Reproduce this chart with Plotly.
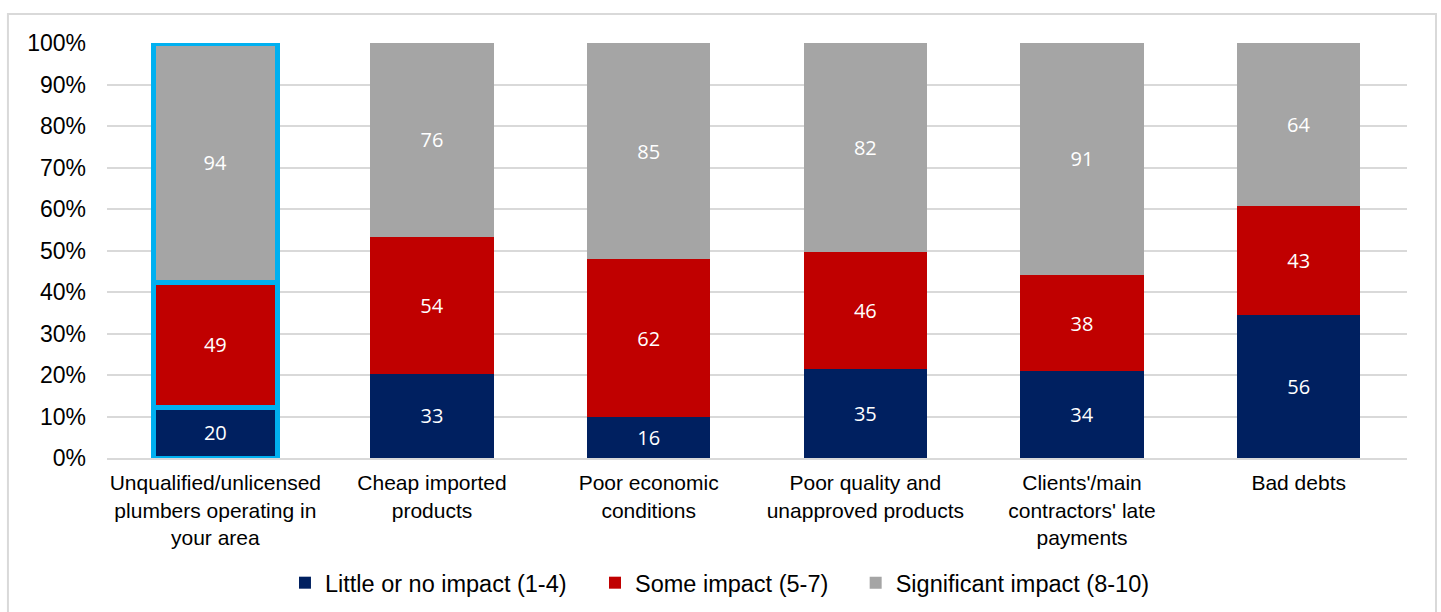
import plotly.graph_objects as go

categories = [
    "Unqualified/unlicensed<br>plumbers operating in<br>your area",
    "Cheap imported<br>products",
    "Poor economic<br>conditions",
    "Poor quality and<br>unapproved products",
    "Clients'/main<br>contractors' late<br>payments",
    "Bad debts",
]
little_impact = [20, 33, 16, 35, 34, 56]
some_impact = [49, 54, 62, 46, 38, 43]
significant_impact = [94, 76, 85, 82, 91, 64]

series_names = ["Little or no impact (1-4)", "Some impact (5-7)", "Significant impact (8-10)"]
series_values = [little_impact, some_impact, significant_impact]
series_colors = ["#002060", "#C00000", "#A5A5A5"]

# each series gets its own legend box so the entries can be spaced freely
legend_ids = ["legend", "legend2", "legend3"]
legend_x = [0.1369, 0.3754, 0.5759]

highlight = "#00B0F0"
label_font = dict(family="Open Sans", size=20, color="white")
bar_width = 0.57

fig = go.Figure()
for name, vals, color, lg in zip(series_names, series_values, series_colors, legend_ids):
    # the first category is drawn separately with a bright blue outline
    fig.add_trace(go.Bar(
        name=name,
        x=categories[:1],
        y=vals[:1],
        text=[str(v) for v in vals[:1]],
        textposition="inside",
        insidetextanchor="middle",
        textfont=label_font,
        marker=dict(color=color, line=dict(color=highlight, width=5)),
        width=bar_width,
        showlegend=False,
        legendgroup=name,
    ))
    fig.add_trace(go.Bar(
        name=name,
        x=categories[1:],
        y=vals[1:],
        text=[str(v) for v in vals[1:]],
        textposition="inside",
        insidetextanchor="middle",
        textfont=label_font,
        marker=dict(color=color, line=dict(width=0)),
        width=bar_width,
        legend=lg,
        legendgroup=name,
    ))

legend_common = dict(
    orientation="h",
    y=-0.301, yanchor="middle",
    xanchor="left",
    font=dict(size=23.5, family="Liberation Sans, Arial", color="black"),
    bgcolor="rgba(0,0,0,0)",
)

fig.update_layout(
    barmode="stack",
    barnorm="percent",
    width=1441,
    height=612,
    margin=dict(l=107, r=34, t=43, b=154, autoexpand=False),
    plot_bgcolor="white",
    paper_bgcolor="white",
    font=dict(family="Liberation Sans, Arial", color="black"),
    legend=dict(x=legend_x[0], **legend_common),
    legend2=dict(x=legend_x[1], **legend_common),
    legend3=dict(x=legend_x[2], **legend_common),
    shapes=[dict(
        type="rect", xref="paper", yref="paper",
        x0=-0.0762, x1=1.0223, y0=-0.4, y1=1.0699,
        line=dict(color="#D9D9D9", width=2),
        layer="below",
    )],
)
fig.update_yaxes(
    range=[0, 100],
    tickvals=[0, 10, 20, 30, 40, 50, 60, 70, 80, 90, 100],
    ticktext=[f"{v}%" for v in range(0, 101, 10)],
    showgrid=True, gridcolor="#D9D9D9", gridwidth=2,
    zeroline=False,
    tickfont=dict(size=23),
    ticks="", ticklabelstandoff=20,
)
fig.update_xaxes(
    tickfont=dict(size=21),
    showline=True, linecolor="#D9D9D9", linewidth=2,
    ticks="", tickangle=0, ticklabelstandoff=5,
)

fig.write_html("out.html")
